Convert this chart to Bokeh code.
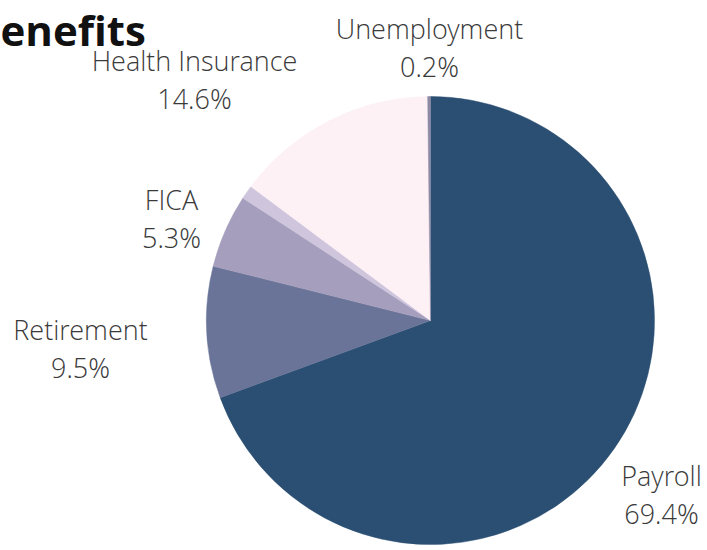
import math
from bokeh.plotting import figure
from bokeh.models import Range1d, ColumnDataSource
from bokeh.core.properties import value
from bokeh.embed import file_html
from bokeh.resources import INLINE

# ---- data ----
categories = ["Payroll", "Retirement", "FICA", "Other", "Health Insurance", "Unemployment"]
shares = [69.4, 9.5, 5.3, 1.0, 14.6, 0.2]
colors = ["#2b4f72", "#6a7498", "#a59fbd", "#cfc6de", "#fdf1f5", "#8d8aa6"]
shown = [True, True, True, False, True, True]
title_text = "enefits"

# ---- layout (picture pixel coordinates) ----
CX, CY, R = 430, 320, 224
label_pos = {
    "Payroll": (661, 475),
    "Retirement": (80, 329),
    "FICA": (171, 199),
    "Health Insurance": (194, 60),
    "Unemployment": (429, 28),
}
LINE_GAP = 38

total = sum(shares)
starts, ends = [], []
cum = 0.0
for s in shares:
    starts.append(math.pi / 2 - 2 * math.pi * cum / total)
    cum += s
    ends.append(math.pi / 2 - 2 * math.pi * cum / total)

src = ColumnDataSource(dict(cat=categories, start=starts, end=ends, color=colors))

p = figure(width=707, height=550, output_backend="svg", toolbar_location=None,
           x_range=Range1d(0, 707), y_range=Range1d(-550, 0),
           min_border=0, outline_line_color=None)
p.axis.visible = False
p.grid.visible = False
p.background_fill_color = "white"
p.border_fill_color = "white"

p.wedge(x=CX, y=-CY, radius=R, start_angle="start", end_angle="end",
        direction="clock", fill_color="color", line_color="color", line_width=0.5,
        source=src)

names, pcts, lx, ly1, ly2 = [], [], [], [], []
for c, s, sh in zip(categories, shares, shown):
    if not sh:
        continue
    x, y = label_pos[c]
    names.append(c)
    pcts.append(f"{s:.1f}%")
    lx.append(x)
    ly1.append(-y)
    ly2.append(-(y + LINE_GAP))

font = value("Open Sans Light, Open Sans")
p.text(x=lx, y=ly1, text=names, text_font=font, text_font_size="27px",
       text_color="#3a3a3a", text_align="center", text_baseline="alphabetic")
p.text(x=lx, y=ly2, text=pcts, text_font=font, text_font_size="27px",
       text_color="#3a3a3a", text_align="center", text_baseline="alphabetic")

p.text(x=[0], y=[-29], text=[title_text], text_font=value("Open Sans"),
       text_font_style="bold", text_font_size="42px", text_color="#111111",
       text_align="left", text_baseline="alphabetic")

open("out.html", "w").write(file_html(p, INLINE))
